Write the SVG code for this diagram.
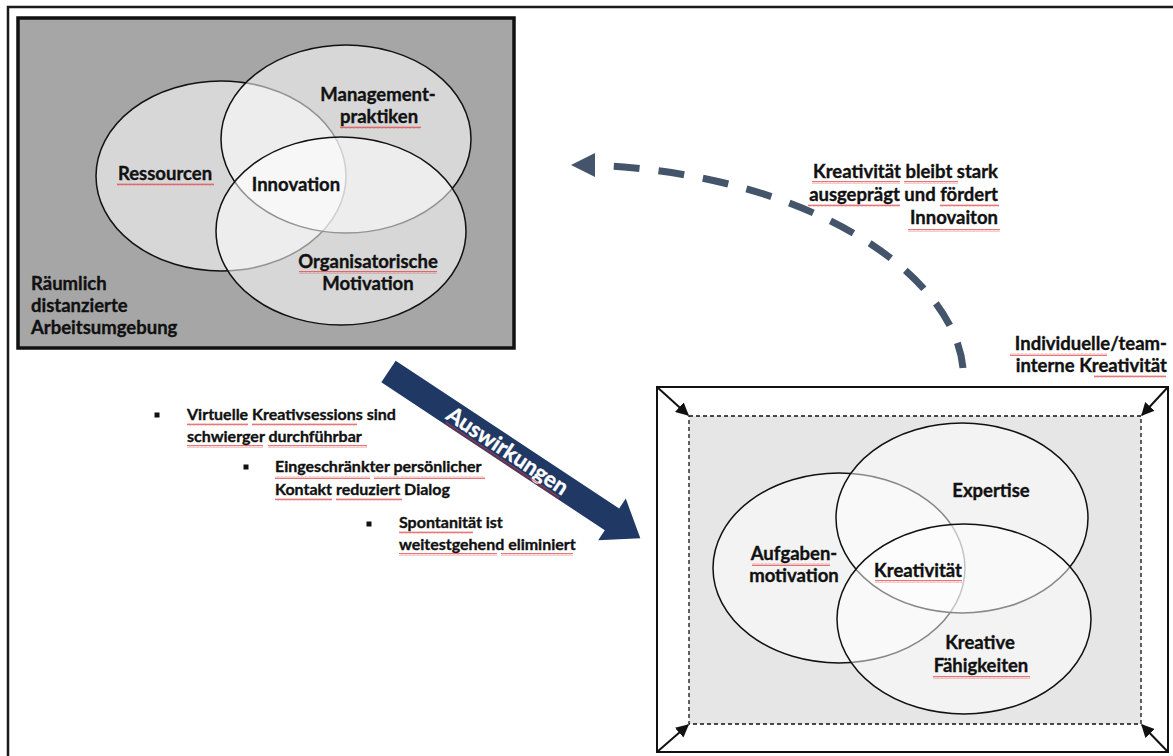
<svg xmlns="http://www.w3.org/2000/svg" width="1173" height="756" viewBox="0 0 1173 756">
<style>
  text { font-family: Lato, "Open Sans", "Liberation Sans", sans-serif; font-weight: bold; fill: #111; stroke: #111; stroke-width: 0.35; }
  .lbl { font-size: 18.5px; }
  .lbl2 { font-size: 18.5px; }
  .bul { font-size: 16px; }
  .c { text-anchor: middle; }
  .r { text-anchor: end; }
  .ell1 { fill: #ffffff; fill-opacity: 0.55; stroke: #111; stroke-width: 1.5; }
  .ell2 { fill: #ffffff; fill-opacity: 0.5; stroke: #111; stroke-width: 1.5; }
  .corner { stroke: #111; stroke-width: 2; fill: none; marker-end: url(#ah); }
  .sq { fill: url(#wave); }
</style>
<defs>
  <marker id="ah" viewBox="0 0 10 10" refX="9" refY="5" markerWidth="6.5" markerHeight="6.5" orient="auto" markerUnits="strokeWidth">
    <path d="M0,0 L10,5 L0,10 z" fill="#111"/>
  </marker>
  <pattern id="wave" x="0" y="0" width="4" height="3" patternUnits="userSpaceOnUse">
    <path d="M0,2.4 L1,0.6 L2,2.4 L3,0.6 L4,2.4" fill="none" stroke="#e03a3a" stroke-width="0.7"/>
  </pattern>
</defs>
<rect x="0" y="0" width="1173" height="756" fill="#ffffff"/>
<rect x="8" y="7" width="1175" height="765" fill="none" stroke="#1a1a1a" stroke-width="2.5"/>

<g id="arbeitsumgebung">
  <rect x="18" y="18" width="496" height="330" fill="#a6a6a6" stroke="#111" stroke-width="3.5"/>
  <text class="lbl" x="31" y="290">Räumlich</text>
  <text class="lbl" x="31" y="312">distanzierte</text>
  <text class="lbl" x="31" y="334">Arbeitsumgebung</text>
</g>
<g id="ressourcen">
  <ellipse class="ell1" cx="221" cy="176" rx="125" ry="95"/>
  <text class="lbl c" x="165" y="180">Ressourcen</text>
</g>
<g id="management">
  <ellipse class="ell1" cx="346" cy="139" rx="125" ry="94"/>
  <text class="lbl c" x="378" y="101">Management-</text>
  <text class="lbl c" x="379" y="123">praktiken</text>
</g>
<g id="organisatorische">
  <ellipse class="ell1" cx="341" cy="231" rx="125" ry="94"/>
  <text class="lbl c" x="368" y="268">Organisatorische</text>
  <text class="lbl c" x="368" y="290">Motivation</text>
</g>
<g id="innovation">
  <text class="lbl c" x="296" y="191">Innovation</text>
</g>

<g id="kreativitaet-box">
  <rect x="657" y="387" width="511" height="365" fill="#ffffff" stroke="#111" stroke-width="2"/>
  <rect x="689" y="416" width="452" height="308" fill="#e6e6e6" stroke="#111" stroke-width="1.3" stroke-dasharray="4 3"/>
</g>
<g id="aufgabenmotivation">
  <ellipse class="ell2" cx="839" cy="568" rx="126" ry="95"/>
  <text class="lbl2 c" x="794" y="560">Aufgaben-</text>
  <text class="lbl2 c" x="794" y="582">motivation</text>
</g>
<g id="expertise">
  <ellipse class="ell2" cx="962" cy="518" rx="126" ry="95"/>
  <text class="lbl2 c" x="991" y="497">Expertise</text>
</g>
<g id="kreative-faehigkeiten">
  <ellipse class="ell2" cx="964" cy="619" rx="127" ry="95"/>
  <text class="lbl2 c" x="980" y="649">Kreative</text>
  <text class="lbl2 c" x="981" y="672">Fähigkeiten</text>
</g>
<g id="kreativitaet">
  <text class="lbl2 c" x="918" y="577">Kreativität</text>
</g>
<g id="individuelle-label">
  <text class="lbl2 r" x="1167" y="350">Individuelle/team-</text>
  <text class="lbl2 r" x="1167" y="372">interne Kreativität</text>
</g>

<g id="auswirkungen-liste">
  <rect x="154.5" y="412.5" width="5" height="5" fill="#111"/>
  <text class="bul" x="187" y="420">Virtuelle Kreativsessions sind</text>
  <text class="bul" x="187" y="442">schwierger durchführbar</text>
  <rect x="243.5" y="464.5" width="5" height="5" fill="#111"/>
  <text class="bul" x="275" y="472">Eingeschränkter persönlicher</text>
  <text class="bul" x="275" y="495">Kontakt reduziert Dialog</text>
  <rect x="366.5" y="521.5" width="5" height="5" fill="#111"/>
  <text class="bul" x="399" y="528">Spontanität ist</text>
  <text class="bul" x="399" y="550">weitestgehend eliminiert</text>
</g>

<g id="feedback-label">
  <text class="lbl2 r" x="998" y="178">Kreativität bleibt stark</text>
  <text class="lbl2 r" x="998" y="201">ausgeprägt und fördert</text>
  <text class="lbl2 r" x="998" y="224">Innovaiton</text>
</g>

<g id="connectors">
  <g transform="translate(388.5,371.5) rotate(33.5)">
    <polygon points="0,-13 268,-13 268,-25 302,0 268,25 268,13 0,13" fill="#1f3864"/>
    <text x="143" y="8" text-anchor="middle" style="font-size:22px; fill:#ffffff; stroke:#ffffff; stroke-width:0.4;">Auswirkungen</text>
    <rect class="sq" x="76" y="10" width="136" height="3"/>
  </g>
  <path d="M963,368 C955,280 820,175 593,165" fill="none" stroke="#44546a" stroke-width="7" stroke-dasharray="26 19"/>
  <polygon points="571,165 595,153 595,177" fill="#44546a"/>
  <line class="corner" x1="657" y1="387" x2="688" y2="415"/>
  <line class="corner" x1="1168" y1="387" x2="1142" y2="415"/>
  <line class="corner" x1="657" y1="752" x2="688" y2="725"/>
  <line class="corner" x1="1168" y1="752" x2="1142" y2="725"/>
</g>

<g id="spellcheck-marks">
  <rect class="sq" x="340" y="126" width="81" height="3"/>
  <rect class="sq" x="117" y="183" width="97" height="3"/>
  <rect class="sq" x="299" y="271" width="138" height="3"/>
  <rect class="sq" x="812" y="181" width="88" height="3"/>
  <rect class="sq" x="904" y="181" width="54" height="3"/>
  <rect class="sq" x="808" y="204" width="92" height="3"/>
  <rect class="sq" x="940" y="204" width="59" height="3"/>
  <rect class="sq" x="908" y="229" width="92" height="3"/>
  <rect class="sq" x="1010" y="353" width="97" height="3"/>
  <rect class="sq" x="1094" y="375" width="72" height="3"/>
  <rect class="sq" x="187" y="423" width="61" height="3"/>
  <rect class="sq" x="252" y="423" width="105" height="3"/>
  <rect class="sq" x="187" y="445" width="76" height="3"/>
  <rect class="sq" x="268" y="445" width="99" height="3"/>
  <rect class="sq" x="275" y="476" width="95" height="3"/>
  <rect class="sq" x="374" y="476" width="111" height="3"/>
  <rect class="sq" x="275" y="498" width="57" height="3"/>
  <rect class="sq" x="336" y="498" width="66" height="3"/>
  <rect class="sq" x="399" y="531" width="74" height="3"/>
  <rect class="sq" x="399" y="553" width="98" height="3"/>
  <rect class="sq" x="501" y="553" width="72" height="3"/>
  <rect class="sq" x="752" y="563" width="78" height="3"/>
  <rect class="sq" x="875" y="580" width="87" height="3"/>
  <rect class="sq" x="933" y="676" width="97" height="3"/>
</g>
</svg>
